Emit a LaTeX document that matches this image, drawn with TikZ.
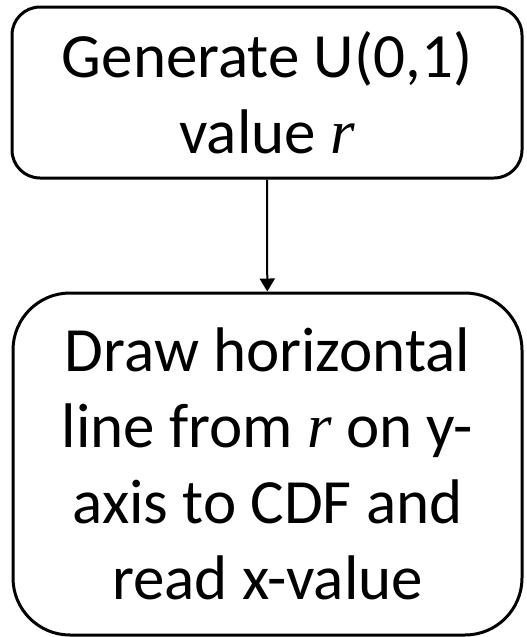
\documentclass[tikz,border=0pt]{standalone}
\usepackage{fontspec}
\setmainfont{Carlito}
\newfontfamily\varfont{Liberation Serif}
\usetikzlibrary{arrows.meta}
% italic variable letter in running text
\newcommand{\itvar}[1]{{\varfont\itshape #1}}
\begin{document}
\begin{tikzpicture}[x=1pt,y=-1pt,
  flowbox/.style={draw, line width=3pt, align=center, inner sep=0pt,
    font=\fontsize{63}{76}\selectfont},
  flowarrow/.style={line width=2pt, -{Triangle[length=13pt,width=15pt]}}]
\useasboundingbox (0,0) rectangle (527,637);
\node[flowbox, rounded corners=28pt, minimum width=510pt, minimum height=171pt]
  (gen) at (267,92.5) {Generate U(0,1)\\value \itvar{r}};
\node[flowbox, rounded corners=57pt, minimum width=509pt, minimum height=342pt]
  (read) at (267.5,464) {Draw horizontal\\line from \itvar{r} on y-\\axis to CDF and\\read x-value};
\draw[flowarrow] (gen) -- (read);
\end{tikzpicture}
\end{document}
